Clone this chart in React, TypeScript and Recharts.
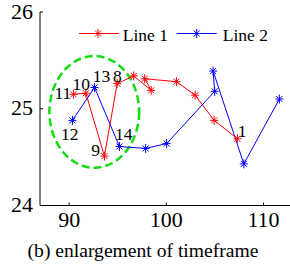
import React from 'react';
import { LineChart, Line, XAxis, YAxis, ReferenceArea, LabelList } from 'recharts';

// Line 1 (red), numbered 1..11 from right to left
const line1X = [107.31, 104.92, 102.96, 101.04, 97.77, 98.44, 96.64, 94.94, 93.63, 91.72, 90.44];
const line1Y = [24.69, 24.88, 25.14, 25.28, 25.31, 25.19, 25.34, 25.26, 24.51, 25.16, 25.15];
const line1Labels = ['1', '', '', '', '', '', '', '8', '9', '10', '11'];

// Line 2 (blue), continues with 12..14
const line2X = [90.34, 92.61, 95.17, 97.87, 100.03, 104.97, 104.81, 107.97, 111.63];
const line2Y = [24.88, 25.22, 24.61, 24.59, 24.64, 25.18, 25.39, 24.43, 25.1];
const line2Labels = ['12', '13', '14', '', '', '', '', '', ''];

const xTicks = [90, 100, 110];
const yTicks = [24, 25, 26];

// green dashed ellipse around the enlarged region
const highlightX = [87.97, 97.2];
const highlightY = [24.39, 25.545];

const line1 = line1X.map((x, i) => ({ x, y: line1Y[i], label: line1Labels[i] }));
const line2 = line2X.map((x, i) => ({ x, y: line2Y[i], label: line2Labels[i] }));

const serif = (size: number): React.CSSProperties => ({
  fontFamily: "'Liberation Serif', 'Times New Roman', Times, 'DejaVu Serif', serif",
  fontSize: size,
});

// label placement relative to its point (text anchor middle, baseline)
const labelOffset: Record<string, [number, number]> = {
  '1': [4.7, -2],
  '8': [0.3, -1.3],
  '9': [-8.8, 0.3],
  '10': [-4.5, -3],
  '11': [-10.5, 5],
  '12': [-2.8, 20],
  '13': [6.9, -5],
  '14': [4.3, -6.7],
};

const star = (cx: number, cy: number, color: string, key?: React.Key) => (
  <g key={key} stroke={color} strokeWidth={1} fill="none">
    <line x1={cx - 4} y1={cy} x2={cx + 4} y2={cy} />
    <line x1={cx} y1={cy - 4.5} x2={cx} y2={cy + 4.5} />
    <line x1={cx - 3} y1={cy - 3} x2={cx + 3} y2={cy + 3} />
    <line x1={cx - 3} y1={cy + 3} x2={cx + 3} y2={cy - 3} />
  </g>
);

const pointLabel = (props: any) => {
  const { x, y, value, index } = props;
  if (!value) return null;
  const [dx, dy] = labelOffset[value] || [0, 0];
  return (
    <text key={index} x={x + dx} y={y + dy} textAnchor="middle" style={serif(17.5)} fill="#000">
      {value}
    </text>
  );
};

const bottomTick = (props: any) => {
  const { x, y, payload } = props;
  return (
    <g>
      <line x1={x} y1={y} x2={x} y2={y - 3} stroke="#000" />
      <text x={x} y={y + 21.5} textAnchor="middle" style={serif(22)} fill="#000">
        {payload.value}
      </text>
    </g>
  );
};

const topTick = (props: any) => {
  const { x, y } = props;
  return <line x1={x} y1={y} x2={x} y2={y + 3} stroke="#000" />;
};

const leftTick = (props: any) => {
  const { x, y, payload } = props;
  return (
    <g>
      <line x1={x} y1={y} x2={x + 3} y2={y} stroke="#000" />
      <text x={x - 7} y={y + 6.5} textAnchor="end" style={serif(22)} fill="#000">
        {payload.value}
      </text>
    </g>
  );
};

const Ellipse = (props: any) => {
  const { x, y, width, height } = props;
  return (
    <ellipse
      cx={x + width / 2}
      cy={y + height / 2}
      rx={width / 2}
      ry={height / 2}
      fill="none"
      stroke="#11dd11"
      strokeWidth={2.5}
      strokeDasharray="8 4"
    />
  );
};

export default function App() {
  return (
    <div style={{ position: 'absolute', left: 0, top: 0, width: 290, height: 264, overflow: 'hidden', background: '#fff' }}>
      <LineChart width={300} height={264} margin={{ top: 12, right: 7.3, bottom: 28.5, left: 0 }}>
        <XAxis
          xAxisId="top"
          orientation="top"
          type="number"
          dataKey="x"
          domain={[87, 113]}
          ticks={xTicks}
          height={0}
          tickSize={0}
          tickMargin={0}
          tick={topTick}
          tickLine={false}
          axisLine={{ stroke: '#000' }}
        />
        <XAxis
          type="number"
          dataKey="x"
          domain={[87, 113]}
          ticks={xTicks}
          height={30}
          tickSize={0}
          tickMargin={0}
          tick={bottomTick}
          tickLine={false}
          axisLine={{ stroke: '#000' }}
        />
        <YAxis
          type="number"
          dataKey="y"
          domain={[24, 26]}
          ticks={yTicks}
          width={40}
          tickSize={0}
          tickMargin={0}
          tick={leftTick}
          tickLine={false}
          axisLine={{ stroke: '#000' }}
        />
        <ReferenceArea
          x1={highlightX[0]}
          x2={highlightX[1]}
          y1={highlightY[0]}
          y2={highlightY[1]}
          shape={<Ellipse />}
        />
        <Line
          data={line1}
          dataKey="y"
          stroke="#ff0000"
          strokeWidth={1}
          isAnimationActive={false}
          dot={(p: any) => star(p.cx, p.cy, '#ff0000', 'r' + p.index)}
          activeDot={false}
        >
          <LabelList dataKey="label" content={pointLabel} />
        </Line>
        <Line
          data={line2}
          dataKey="y"
          stroke="#0000ff"
          strokeWidth={1}
          isAnimationActive={false}
          dot={(p: any) => star(p.cx, p.cy, '#0000ff', 'b' + p.index)}
          activeDot={false}
        >
          <LabelList dataKey="label" content={pointLabel} />
        </Line>
      </LineChart>
      <svg width={290} height={264} style={{ position: 'absolute', left: 0, top: 0, pointerEvents: 'none' }}>
        <line x1={79} y1={33.5} x2={119} y2={33.5} stroke="#ff0000" />
        {star(98, 33.5, '#ff0000')}
        <text x={122.7} y={40.5} style={serif(17.5)} fill="#000">Line 1</text>
        <line x1={176.7} y1={33.5} x2={216.7} y2={33.5} stroke="#0000ff" />
        {star(196.7, 33.5, '#0000ff')}
        <text x={222.7} y={40.5} style={serif(17.5)} fill="#000">Line 2</text>
        <text x={143} y={257} textAnchor="middle" style={serif(19.6)} fill="#000">
          (b) enlargement of timeframe
        </text>
      </svg>
    </div>
  );
}
